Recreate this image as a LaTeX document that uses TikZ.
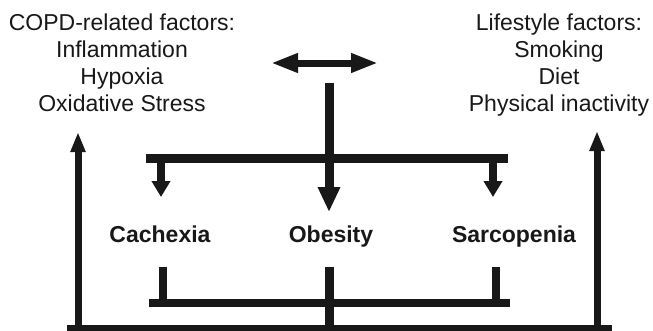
\documentclass[tikz,border=0pt]{standalone}
\usepackage{fontspec}
\setmainfont{Liberation Sans}
\usetikzlibrary{arrows.meta}
\definecolor{ink}{RGB}{24,24,24}

\begin{document}
\begin{tikzpicture}[x = 1pt, y = -1pt, ink,
                    factors/.style = {font = \fontsize{23}{27}\selectfont, align = center, inner sep = 0pt, anchor = north},
                    state/.style = {font = \bfseries\fontsize{23}{27}\selectfont, inner sep = 0pt, anchor = base},
                    bar/.style = {line width = 9pt},
                    stem/.style = {line width = 8pt},
                    loop/.style = {line width = 7pt}]

\useasboundingbox (0,0) rectangle (653,330);

% factor lists
\node [factors] (COPD) at (122,13.5) {COPD-related factors:\\Inflammation\\Hypoxia\\Oxidative Stress};
\node [factors] (LIFE) at (559,14) {Lifestyle factors:\\Smoking\\Diet\\Physical inactivity};

% conditions
\node [state] (CAC) at (160,242) {Cachexia};
\node [state] (OBE) at (331,242) {Obesity};
\node [state] (SAR) at (514,242) {Sarcopenia};

% interaction arrow
\coordinate (I1) at (271,63);
\coordinate (I2) at (378,63);
\draw [loop, {Triangle[length=27pt, width=18pt]}-{Triangle[length=27pt, width=18pt]}] (I1)--(I2);

% upper bar
\coordinate (U0) at (329,83);
\coordinate (U1) at (146,158);
\coordinate (U2) at (508,158);
\coordinate (UC) at (161,158);
\coordinate (US) at (493,158);
\coordinate (TO) at (329,212);
\coordinate (TC) at (161,197);
\coordinate (TS) at (493,197);
\draw [bar] (U1)--(U2);
\draw [bar, -{Triangle[length=25pt, width=21pt]}] (U0)--(TO);
\draw [stem, -{Triangle[length=16pt, width=18pt]}] (UC)--(TC);
\draw [stem, -{Triangle[length=16pt, width=18pt]}] (US)--(TS);

% lower bar
\coordinate (L1) at (149,303);
\coordinate (L2) at (510,303);
\coordinate (LC) at (163,267);
\coordinate (LO) at (329,267);
\coordinate (LS) at (496,267);
\coordinate (B0) at (329,328);
\draw [stem] (L1)--(L2);
\draw [stem] (LC)--(LC |- L1);
\draw [stem] (LS)--(LS |- L1);
\draw [bar] (LO)--(B0);

% feedback loop
\coordinate (B1) at (67,328);
\coordinate (B2) at (612,328);
\coordinate (BL) at (78,328);
\coordinate (BR) at (597,328);
\coordinate (TL) at (78,132);
\coordinate (TR) at (597,131);
\draw [line width = 6pt] (B1)--(B2);
\draw [loop, -{Triangle[length=20pt, width=14pt]}] (BL)--(TL);
\draw [loop, -{Triangle[length=20pt, width=14pt]}] (BR)--(TR);

\end{tikzpicture}
\end{document}
